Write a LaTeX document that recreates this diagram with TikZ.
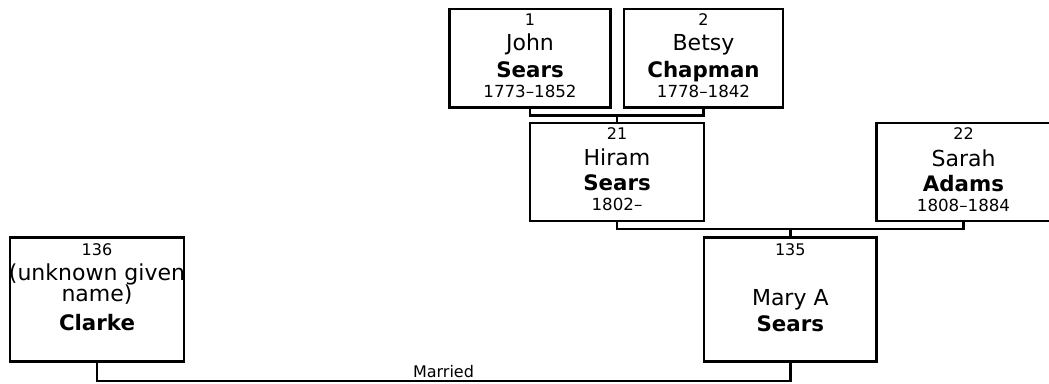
\documentclass[tikz,border=0pt]{standalone}
\usepackage{fontspec}
\setmainfont{DejaVu Sans}
\begin{document}
\begin{tikzpicture}[x=0.75pt,y=-0.75pt,
  box/.style={draw=black, line width=2.1pt, fill=white, inner sep=0pt},
  conn/.style={draw=black, line width=1.9pt},
  txt/.style={anchor=base, inner sep=0pt},
  num/.style={txt, font=\fontsize{12}{14}\selectfont},
  given/.style={txt, font=\fontsize{16.5}{19}\selectfont},
  sur/.style={txt, font=\fontsize{16}{18}\selectfont\bfseries},
  dates/.style={txt, font=\fontsize{12.5}{14}\selectfont},
  lbl/.style={txt, font=\fontsize{12}{14}\selectfont}]
\useasboundingbox (0,0) rectangle (1049,383);
\clip (0,0) rectangle (1049,383);

% boxes
\node[box, minimum width=120.75pt, minimum height=73.9pt] (p1) at (530,58.25) {};
\node[box, minimum width=119.25pt, minimum height=73.9pt] (p2) at (703.5,58.25) {};
\node[box, minimum width=130.5pt, minimum height=73.5pt] (p21) at (617,172) {};
\node[box, minimum width=130.5pt, minimum height=73.5pt] (p22) at (963.5,172) {};
\node[box, minimum width=129.5pt, minimum height=93pt] (p135) at (790.3,299.7) {};
\node[box, minimum width=130.5pt, minimum height=93.3pt] (p136) at (97,299.5) {};

% connectors
\coordinate (m12) at (617,115.5);
\draw[conn] (p1.south) |- (m12) -| (p2.south);
\draw[conn] (m12) -- (p21.north);
\coordinate (m2122) at (790.3,229);
\draw[conn] (p21.south) |- (m2122) -| (p22.south);
\draw[conn] (m2122) -- (p135.north);
\coordinate (mm) at (443.5,381);
\draw[conn] (p136.south) |- (mm) -| (p135.south);
\node[lbl] (lm) at (443.5,377.5) {Married};

% texts: John
\node[num] (p1n) at (530,25.5) {1};
\node[given] (p1g) at (530,50.5) {John};
\node[sur] (p1s) at (530,77) {Sears};
\node[dates] (p1d) at (530,97) {1773–1852};
% Betsy
\node[num] (p2n) at (703.5,25.5) {2};
\node[given] (p2g) at (703.5,50.5) {Betsy};
\node[sur] (p2s) at (703.5,77) {Chapman};
\node[dates] (p2d) at (703.5,97) {1778–1842};
% Hiram
\node[num] (p21n) at (617,139) {21};
\node[given] (p21g) at (617,165.5) {Hiram};
\node[sur] (p21s) at (617,190.5) {Sears};
\node[dates] (p21d) at (617,210.5) {1802–};
% Sarah
\node[num] (p22n) at (963.5,139.5) {22};
\node[given] (p22g) at (963.5,166) {Sarah};
\node[sur] (p22s) at (963.5,191) {Adams};
\node[dates] (p22d) at (963.5,211) {1808–1884};
% Mary
\node[num] (p135n) at (790.3,255) {135};
\node[given] (p135g) at (790.3,305.5) {Mary A};
\node[sur] (p135s) at (790.3,331.5) {Sears};
% Clarke
\node[num] (p136n) at (97,255) {136};
\node[given] (p136g) at (97,280) {(unknown given};
\node[given] (p136h) at (97,301.5) {name)};
\node[sur] (p136s) at (97,330) {Clarke};
\end{tikzpicture}
\end{document}
